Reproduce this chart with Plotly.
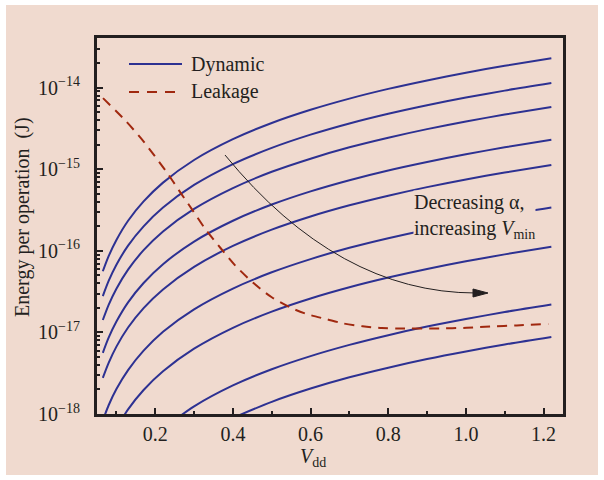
import plotly.graph_objects as go

# ---------------- data ----------------
vdd = [0.065, 0.08, 0.1, 0.13, 0.17, 0.22, 0.3, 0.4, 0.5, 0.6, 0.7, 0.8, 0.9, 1.0, 1.1, 1.22]

dyn_1 = [5.63e-17, 8.63e-17, 1.36e-16, 2.34e-16, 4.04e-16, 6.87e-16, 1.30e-15, 2.34e-15, 3.70e-15, 5.37e-15, 7.36e-15, 9.68e-15, 1.23e-14, 1.53e-14, 1.86e-14, 2.30e-14]
dyn_2 = [2.79e-17, 4.28e-17, 6.76e-17, 1.16e-16, 2.00e-16, 3.40e-16, 6.43e-16, 1.16e-15, 1.83e-15, 2.66e-15, 3.65e-15, 4.80e-15, 6.11e-15, 7.58e-15, 9.22e-15, 1.14e-14]
dyn_3 = [1.42e-17, 2.18e-17, 3.44e-17, 5.89e-17, 1.02e-16, 1.73e-16, 3.27e-16, 5.89e-16, 9.32e-16, 1.35e-15, 1.86e-15, 2.44e-15, 3.11e-15, 3.86e-15, 4.69e-15, 5.80e-15]
dyn_4 = [5.63e-18, 8.63e-18, 1.36e-17, 2.34e-17, 4.04e-17, 6.87e-17, 1.30e-16, 2.34e-16, 3.70e-16, 5.37e-16, 7.36e-16, 9.68e-16, 1.23e-15, 1.53e-15, 1.86e-15, 2.30e-15]
dyn_5 = [2.77e-18, 4.24e-18, 6.70e-18, 1.15e-17, 1.99e-17, 3.37e-17, 6.37e-17, 1.15e-16, 1.82e-16, 2.64e-16, 3.62e-16, 4.75e-16, 6.05e-16, 7.52e-16, 9.14e-16, 1.13e-15]
dyn_6 = [8.33e-19, 1.28e-18, 2.02e-18, 3.45e-18, 5.98e-18, 1.02e-17, 1.92e-17, 3.45e-17, 5.46e-17, 7.93e-17, 1.09e-16, 1.43e-16, 1.82e-16, 2.26e-16, 2.75e-16, 3.40e-16]
dyn_7 = [None, None, 6.64e-19, 1.14e-18, 1.97e-18, 3.34e-18, 6.32e-18, 1.14e-17, 1.80e-17, 2.61e-17, 3.58e-17, 4.71e-17, 6.00e-17, 7.45e-17, 9.06e-17, 1.12e-16]
dyn_8 = [None, None, None, None, None, 6.57e-19, 1.24e-18, 2.24e-18, 3.54e-18, 5.13e-18, 7.04e-18, 9.26e-18, 1.18e-17, 1.46e-17, 1.78e-17, 2.20e-17]
dyn_9 = [None, None, None, None, None, None, None, 8.94e-19, 1.41e-18, 2.05e-18, 2.82e-18, 3.70e-18, 4.72e-18, 5.85e-18, 7.12e-18, 8.80e-18]
dynamic_series = [dyn_1, dyn_2, dyn_3, dyn_4, dyn_5, dyn_6, dyn_7, dyn_8, dyn_9]

leak_v = [0.0655, 0.122, 0.163, 0.199, 0.233, 0.265, 0.296, 0.329, 0.367, 0.405, 0.453, 0.500,
          0.547, 0.592, 0.642, 0.684, 0.734, 0.783, 0.830, 0.933, 1.002, 1.062, 1.131, 1.212]
leak_e = [7.46e-15, 4.01e-15, 2.41e-15, 1.45e-15, 8.73e-16, 5.18e-16, 3.16e-16, 1.85e-16, 1.10e-16,
          6.70e-17, 4.03e-17, 2.70e-17, 2.03e-17, 1.67e-17, 1.45e-17, 1.29e-17, 1.19e-17, 1.13e-17,
          1.12e-17, 1.12e-17, 1.14e-17, 1.18e-17, 1.22e-17, 1.27e-17]

x_ticks = [0.2, 0.4, 0.6, 0.8, 1.0, 1.2]
x_tick_labels = ["0.2", "0.4", "0.6", "0.8", "1.0", "1.2"]
x_minor = [0.1, 0.3, 0.5, 0.7, 0.9, 1.1]
y_ticks = [1e-18, 1e-17, 1e-16, 1e-15, 1e-14]
y_tick_labels = ["10<sup>\u221218</sup>", "10<sup>\u221217</sup>", "10<sup>\u221216</sup>",
                 "10<sup>\u221215</sup>", "10<sup>\u221214</sup>"]
y_minor = [m * 10.0 ** e for e in range(-18, -13) for m in range(2, 10)]

# ---------------- style ----------------
BG = "#F0DACF"
INK = "#231F20"
BLUE = "#2D3192"
RED = "#A0280F"
FONT = "Liberation Serif"
FS = 20

fig = go.Figure()
for ys in dynamic_series:
    fig.add_trace(go.Scatter(x=vdd, y=ys, mode="lines",
                             line=dict(color=BLUE, width=2, shape="spline", smoothing=0.8),
                             showlegend=False, hoverinfo="skip"))
fig.add_trace(go.Scatter(x=leak_v, y=leak_e, mode="lines",
                         line=dict(color=RED, width=2, dash="10px,7px", shape="spline", smoothing=0.8),
                         showlegend=False, hoverinfo="skip"))

L, R, T, B = 97, 41, 38, 66
PW, PH = 604 - L - R, 480 - T - B
def px(x):
    return (x - L) / PW
def py(y):
    return (480 - B - y) / PH

shapes = [
    dict(type="rect", xref="paper", yref="paper", x0=px(6), x1=px(598), y0=py(475), y1=py(5),
         fillcolor=BG, line=dict(width=0), layer="below"),
    # legend samples
    dict(type="line", xref="paper", yref="paper", x0=px(129), x1=px(182), y0=py(64), y1=py(64),
         line=dict(color=BLUE, width=2)),
    dict(type="line", xref="paper", yref="paper", x0=px(129), x1=px(182), y0=py(92), y1=py(92),
         line=dict(color=RED, width=2, dash="10px,8px")),
    # curved arrow
    dict(type="path", xref="paper", yref="paper",
         path=f"M {px(225)} {py(155)} Q {px(338)} {py(293)} {px(476)} {py(293)}",
         line=dict(color=INK, width=1)),
    dict(type="path", xref="paper", yref="paper",
         path=f"M {px(473)} {py(289)} L {px(488)} {py(293)} L {px(473)} {py(297)} Z",
         fillcolor=INK, line=dict(color=INK, width=1)),
]

annotations = [
    dict(xref="paper", yref="paper", x=px(189), y=py(64), xanchor="left", yanchor="middle",
         text="Dynamic", showarrow=False, font=dict(family=FONT, size=FS, color=INK)),
    dict(xref="paper", yref="paper", x=px(189), y=py(92), xanchor="left", yanchor="middle",
         text="Leakage", showarrow=False, font=dict(family=FONT, size=FS, color=INK)),
    dict(xref="paper", yref="paper", x=px(413), y=py(190), xanchor="left", yanchor="top",
         text="Decreasing \u03b1,<br>increasing <i>V</i><sub>min</sub>", align="left",
         showarrow=False, bgcolor=BG, borderpad=0, font=dict(family=FONT, size=FS, color=INK)),
    dict(xref="paper", yref="paper", x=px(22), y=py(217), xanchor="center", yanchor="middle",
         text="Energy per operation\u00a0\u00a0(J)", textangle=-90, showarrow=False,
         font=dict(family=FONT, size=FS, color=INK)),
    dict(xref="paper", yref="paper", x=px(313), y=py(457), xanchor="center", yanchor="middle",
         text="<i>V</i><sub>dd</sub>", showarrow=False, font=dict(family=FONT, size=FS, color=INK)),
]

fig.update_layout(
    width=604, height=480,
    margin=dict(l=L, r=R, t=T, b=B),
    paper_bgcolor="white", plot_bgcolor=BG,
    showlegend=False,
    shapes=shapes, annotations=annotations,
    font=dict(family=FONT, size=FS, color=INK),
)
fig.update_xaxes(range=[0.05, 1.25], tickvals=x_ticks, ticktext=x_tick_labels,
                 showgrid=False, zeroline=False, showline=True, linewidth=3, linecolor=INK,
                 mirror=True, ticks="inside", ticklen=6, tickwidth=2, tickcolor=INK,
                 ticklabelstandoff=0,
                 minor=dict(tickvals=x_minor, ticks="inside", ticklen=3, tickwidth=2, tickcolor=INK,
                            showgrid=False),
                 tickfont=dict(family=FONT, size=FS, color=INK))
fig.update_yaxes(type="log", range=[-18, -13.39], tickvals=y_ticks, ticktext=y_tick_labels,
                 showgrid=False, zeroline=False, showline=True, linewidth=3, linecolor=INK,
                 mirror=True, ticks="inside", ticklen=6, tickwidth=2, tickcolor=INK,
                 ticklabelstandoff=10,
                 minor=dict(tickvals=y_minor, ticks="inside", ticklen=3, tickwidth=1.5, tickcolor=INK,
                            showgrid=False),
                 tickfont=dict(family=FONT, size=FS, color=INK))

fig.write_html("out.html")
